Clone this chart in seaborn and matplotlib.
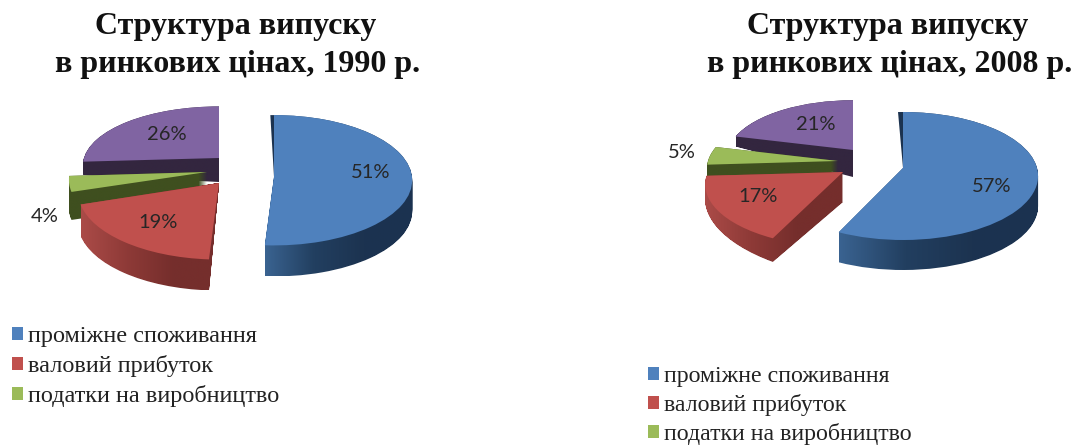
import numpy as np
import seaborn as sns
import matplotlib
matplotlib.use("Agg")
import matplotlib.pyplot as plt
from matplotlib.colors import LinearSegmentedColormap
from matplotlib.patches import Patch, Wedge
from matplotlib.path import Path
from matplotlib.transforms import Transform

# дані
categories = ["проміжне споживання", "валовий прибуток", "податки на виробництво", "інше"]
values_1990 = [51, 19, 4, 26]
values_2008 = [57, 17, 5, 21]
years = ["1990", "2008"]
legend_count = 3

W, H = 1073, 445

colors = sns.color_palette(["#4f81bd", "#c0504d", "#9bbb59", "#8064a2"])
wall_colors = [["#3a6391", "#223f60", "#1c3350", "#1b3250"],
               ["#ab4b48", "#8e3a37", "#752e2c", "#752e2c"],
               ["#3f4f1f", "#3f4f1f", "#3f4f1f", "#3f4f1f"],
               ["#33263f", "#33263f", "#33263f", "#33263f"]]

# положення секторів: вершина x, y, rx, ry, перспектива, глибина,
# звуження стінки до краю, звуження стінки до вершини
layout_1 = [(274, 177, 138, 65, 0.05, 31, 0, 0),
            (219, 183, 140, 67, 0.125, 31, 0, 1),
            (207, 172, 137, 62, 0.125, 28, 0, 0),
            (219, 158, 135, 58, 0.125, 24, 0.45, 0)]
layout_2 = [(903, 168, 134, 63, 0.125, 30, 0, 0),
            (843, 172, 135, 60, 0.2, 30, 0.5, 0),
            (838, 161, 130, 58, 0.125, 20, 0, 0),
            (853, 150, 125, 56, 0.125, 27, 0.65, 0)]
label_pos_1 = [(371, 172), (158, 222), (45, 216), (167, 134)]
label_pos_2 = [(992, 186), (758, 197), (682, 153), (816, 124)]
sliver_1, sliver_2 = 1.6, 2.4


class Tilt(Transform):
    input_dims = output_dims = 2
    is_affine = False
    has_inverse = False

    def __init__(self, x, y, rx, ry, k):
        super().__init__()
        self.x, self.y, self.rx, self.ry, self.k = x, H - y, rx, ry, k

    def transform_non_affine(self, values):
        u, v = values[:, 0], values[:, 1]
        w = 1 + self.k * v
        return np.column_stack([self.x + self.rx * u / w, self.y + self.ry * v / w])


def draw_pie(ax, values, layout, label_pos, sliver):
    wedges, _, autotexts = ax.pie(values, startangle=90, counterclock=False, radius=1,
                                  colors=colors, autopct="%.0f%%",
                                  wedgeprops={"linewidth": 0})
    for i, (w, at) in enumerate(zip(wedges, autotexts)):
        x, y, rx, ry, k, depth, taper, apex_cut = layout[i]
        tilt = Tilt(x, y, rx, ry, k)
        base = w.get_path()
        flat = tilt.transform(base.vertices)
        dist = np.minimum(np.hypot(base.vertices[:, 0], base.vertices[:, 1]), 1)
        drop = depth * (1 - taper * np.abs(base.vertices[:, 0])) * (1 - apex_cut * (1 - dist))
        # бокова стінка - стопка зміщених копій сектора, залита градієнтом
        layers = []
        for t in np.linspace(0, 1, int(depth) + 1):
            verts = flat.copy()
            verts[:, 1] -= t * drop
            layers.append(Path(verts, base.codes))
        wall = Path.make_compound_path(*layers)
        box = wall.get_extents()
        cmap = LinearSegmentedColormap.from_list("wall", wall_colors[i])
        order = 3 - i  # фіолетовий позаду, синій попереду
        im = ax.imshow(np.linspace(0, 1, 256).reshape(1, -1), cmap=cmap, aspect="auto",
                       extent=[box.x0, box.x1, box.y0, box.y1], zorder=2 + 3 * order,
                       interpolation="bilinear")
        im.set_clip_path(wall, transform=ax.transData)
        w.set_transform(tilt + ax.transData)
        w.set_zorder(4 + 3 * order)
        at.set_position((label_pos[i][0], H - label_pos[i][1]))
        at.set_ha("center")
        at.set_va("center")
        at.set_fontsize(14.5)
        at.set_family("Lato")
        at.set_color("#262626")
        at.set_zorder(30)
    # темна смужка біля верхнього кута синього сектора
    strip = Wedge((0, 0), 1, 90, 90 + sliver, facecolor=wall_colors[0][2], linewidth=0,
                  zorder=12, transform=Tilt(*layout[0][:5]) + ax.transData)
    ax.add_patch(strip)


sns.set_theme(style="white")
plt.rcParams["font.family"] = ["Liberation Serif", "DejaVu Serif"]

fig = plt.figure(figsize=(W / 100, H / 100), dpi=100)
ax = fig.add_axes([0, 0, 1, 1])

draw_pie(ax, values_1990, layout_1, label_pos_1, sliver_1)
draw_pie(ax, values_2008, layout_2, label_pos_2, sliver_2)

ax.set_aspect("auto")
ax.set_xlim(0, W)
ax.set_ylim(0, H)
ax.axis("off")

title_top = "Структура випуску"
title_low = "в ринкових цінах, {} р."
for (x1, x2), year in zip([(95, 55), (747, 707)], years):
    fig.text(x1 / W, 1 - 34 / H, title_top, fontsize=23, fontweight="bold", color="#111111")
    fig.text(x2 / W, 1 - 72 / H, title_low.format(year), fontsize=23, fontweight="bold", color="#111111")

handles = [Patch(facecolor=c, linewidth=0) for c in colors[:legend_count]]
for anchor, size, spacing in [((12, 326), 17.5, 0.33), ((648, 366), 17.2, 0.3)]:
    fig.legend(handles, categories[:legend_count], loc="upper left",
               bbox_to_anchor=(anchor[0] / W, 1 - anchor[1] / H), frameon=False,
               borderaxespad=0, borderpad=0, fontsize=size, labelspacing=spacing,
               handlelength=0.45, handleheight=0.45, handletextpad=0.2,
               labelcolor="#222222")

fig.savefig("out.png", dpi=100)
